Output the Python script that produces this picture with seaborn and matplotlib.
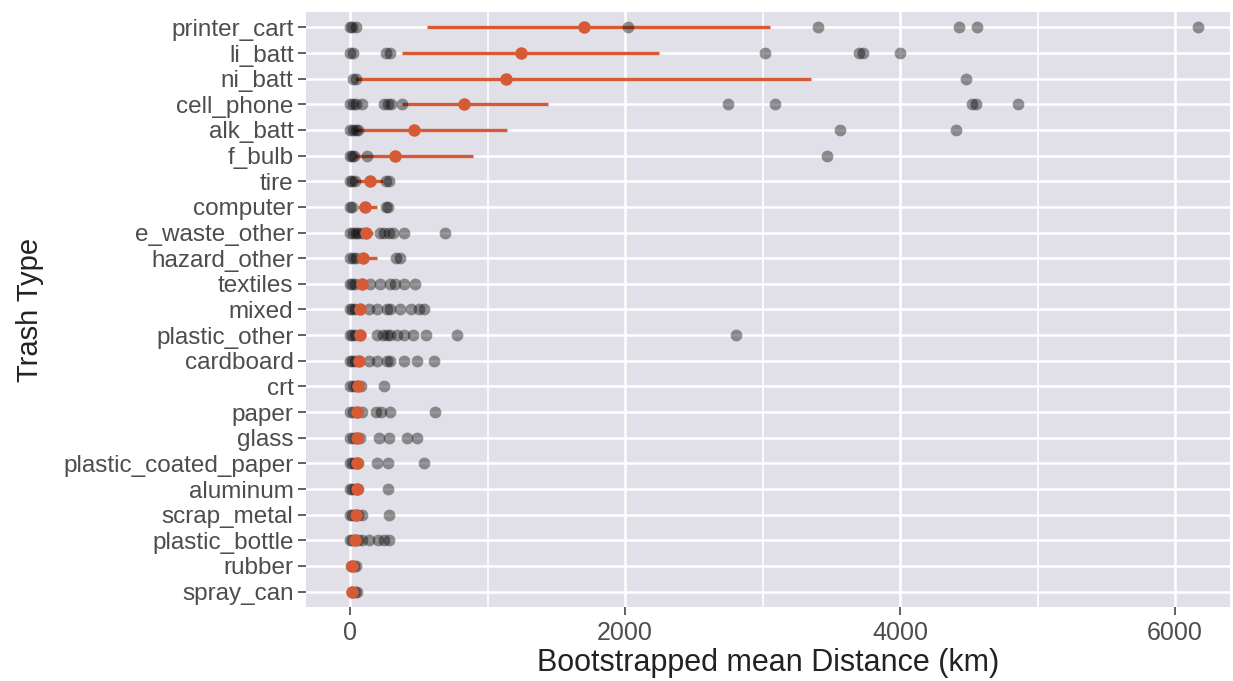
import numpy as np
import pandas as pd
import seaborn as sns
import matplotlib.pyplot as plt
from matplotlib.ticker import FixedLocator

# ---- data (km) ----
categories = [
    "printer_cart", "li_batt", "ni_batt", "cell_phone", "alk_batt", "f_bulb",
    "tire", "computer", "e_waste_other", "hazard_other", "textiles", "mixed",
    "plastic_other", "cardboard", "crt", "paper", "glass",
    "plastic_coated_paper", "aluminum", "scrap_metal", "plastic_bottle",
    "rubber", "spray_can",
]

# individual bootstrapped means (gray points)
obs_km = [
    [0, 15, 45, 2020, 3400, 4430, 4560, 6170],
    [0, 20, 265, 290, 3020, 3700, 3730, 4000],
    [20, 45, 4480],
    [0, 20, 45, 90, 250, 275, 300, 380, 2750, 3090, 4520, 4555, 4860],
    [0, 20, 40, 60, 3565, 4405],
    [0, 15, 30, 125, 3470],
    [0, 15, 35, 260, 285],
    [0, 15, 260, 275],
    [0, 20, 40, 60, 85, 220, 250, 280, 310, 390, 690],
    [0, 20, 45, 335, 360],
    [0, 15, 35, 145, 215, 290, 330, 395, 475],
    [0, 15, 35, 135, 195, 270, 290, 365, 440, 500, 535],
    [0, 15, 35, 195, 240, 270, 290, 340, 390, 460, 555, 775, 2810],
    [0, 15, 35, 135, 195, 270, 290, 390, 485, 610],
    [0, 20, 40, 80, 250],
    [0, 20, 50, 90, 190, 225, 290, 620],
    [0, 20, 40, 70, 210, 280, 415, 490],
    [0, 15, 35, 60, 195, 275, 535],
    [0, 15, 35, 60, 275],
    [0, 15, 35, 60, 90, 285],
    [0, 15, 35, 60, 90, 140, 200, 250, 280],
    [10, 30, 45],
    [15, 35, 50],
]

# overall mean and interval (red)
mean_km = [1700, 1245, 1135, 830, 465, 327, 145, 109, 116, 95, 85, 73,
           73, 68, 58, 53, 53, 53, 48, 44, 36, 12, 12]
ci_low_km = [560, 376, 36, 376, 36, 36, 44, 58, 70, 58, 60, 55,
             45, 50, 40, 38, 38, 38, 35, 30, 25, 5, 5]
ci_high_km = [3055, 2247, 3353, 1440, 1142, 895, 240, 197, 165, 197, 110, 95,
              110, 90, 80, 72, 72, 72, 65, 60, 50, 20, 20]

major_ticks = [0, 2000, 4000, 6000]
minor_ticks = [1000, 3000, 5000]

obs = pd.DataFrame({
    "trash": [c for c, vals in zip(categories, obs_km) for _ in vals],
    "km": [v for vals in obs_km for v in vals],
})

red = "#D65A35"
text_gray = "#4D4D4D"

sns.set_theme(style="darkgrid", rc={
    "axes.facecolor": "#E1E0E8",
    "grid.color": "white",
    "xtick.bottom": True,
    "ytick.left": True,
    "xtick.color": "#555555",
    "ytick.color": "#555555",
})
plt.rcParams["font.family"] = ["Liberation Sans", "DejaVu Sans"]

fig = plt.figure(figsize=(12.33, 6.81), dpi=100)
ax = fig.add_axes([0.2482, 0.1087, 0.7494, 0.8737])

ypos = np.arange(len(categories))
ax.hlines(ypos, ci_low_km, ci_high_km, color=red, linewidth=2.4, zorder=2)

sns.stripplot(data=obs, x="km", y="trash", order=categories, jitter=False,
              color="black", alpha=0.4, size=8.5, linewidth=0, zorder=3, ax=ax)
sns.stripplot(x=mean_km, y=categories, order=categories, jitter=False,
              color=red, size=9, linewidth=0, zorder=4, ax=ax)

ax.set_xlim(-320, 6400)
ax.set_ylim(len(categories) - 1 + 0.6, -0.6)
ax.xaxis.set_major_locator(FixedLocator(major_ticks))
ax.xaxis.set_minor_locator(FixedLocator(minor_ticks))
ax.grid(False)
ax.grid(True, which="major", axis="x", color="white", linewidth=1.8)
ax.grid(True, which="minor", axis="x", color="white", linewidth=1.2)
ax.grid(True, which="major", axis="y", color="white", linewidth=1.8)
ax.set_axisbelow(True)
for s in ax.spines.values():
    s.set_visible(False)

ax.tick_params(axis="y", which="major", left=True, length=6, width=1.3,
               color="#555555", labelsize=17.5, labelcolor=text_gray, pad=3)
ax.tick_params(axis="x", which="major", bottom=True, length=6, width=1.3,
               color="#555555", labelsize=18, labelcolor=text_gray, pad=4)
ax.tick_params(axis="x", which="minor", bottom=False, length=0)
ax.set_xlabel("Bootstrapped mean Distance (km)", fontsize=22, color="#222222", labelpad=2)
ax.set_ylabel("Trash Type", fontsize=21, color="#222222", labelpad=14)

fig.savefig("out.png", dpi=100)
